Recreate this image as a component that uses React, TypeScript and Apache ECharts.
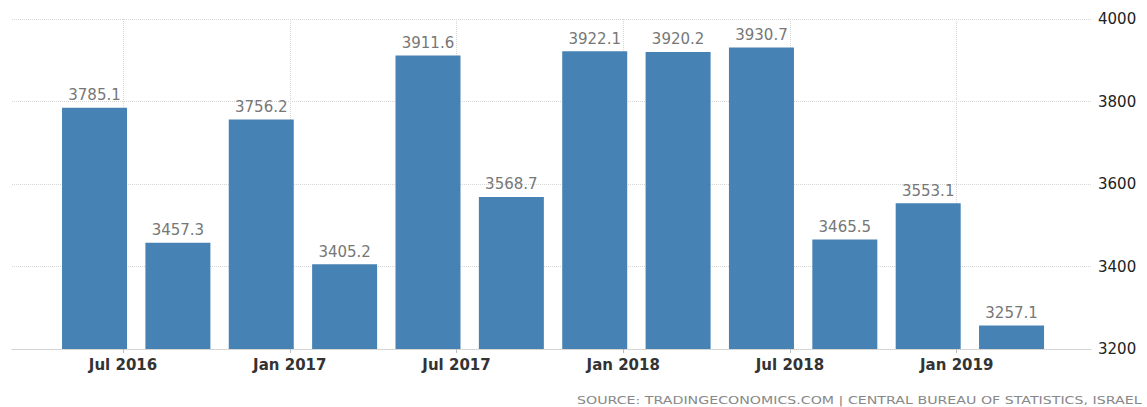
import React, { useEffect, useRef } from "react";
import * as echarts from "echarts";

const quarters = ["2016 Q2", "2016 Q3", "2016 Q4", "2017 Q1", "2017 Q2", "2017 Q3", "2017 Q4", "2018 Q1", "2018 Q2", "2018 Q3", "2018 Q4", "2019 Q1"];
const values = [3785.1, 3457.3, 3756.2, 3405.2, 3911.6, 3568.7, 3922.1, 3920.2, 3930.7, 3465.5, 3553.1, 3257.1];
const tickLabels = ["Jul 2016", "Jan 2017", "Jul 2017", "Jan 2018", "Jul 2018", "Jan 2019"];
// tick label positions in quarter units (bar index scale)
const tickPositions = [0.342, 2.342, 4.342, 6.342, 8.342, 10.342];
const sourceText = "SOURCE: TRADINGECONOMICS.COM | CENTRAL BUREAU OF STATISTICS, ISRAEL";

export default function App() {
  const ref = useRef<HTMLDivElement>(null);
  useEffect(() => {
    if (!ref.current) return;
    const chart = echarts.init(ref.current, null, { renderer: "svg" });
    const labelMap: Record<string, string> = {};
    tickPositions.forEach((p, i) => (labelMap[p.toFixed(3)] = tickLabels[i]));
    chart.setOption({
      animation: false,
      grid: { left: 12, right: 55, top: 19, bottom: 58, containLabel: false },
      xAxis: {
        type: "value",
        min: -0.99,
        max: 11.965,
        axisLine: { show: true, lineStyle: { color: "#ccc", type: "dotted", width: 1 } },
        axisTick: { show: true, length: 4, lineStyle: { color: "#bbb" }, customValues: tickPositions },
        splitLine: { show: true, lineStyle: { color: "#d6d6d6", type: "dotted", width: 1 } },
        axisLabel: {
          customValues: tickPositions,
          formatter: (v: number) => labelMap[v.toFixed(3)] ?? "",
          color: "#333",
          fontFamily: "DejaVu Sans",
          fontSize: 15,
          fontWeight: "bold",
          margin: 8,
        },
      },
      yAxis: {
        type: "value",
        position: "right",
        min: 3200,
        max: 4000,
        interval: 200,
        axisLine: { show: false },
        axisTick: { show: false },
        splitLine: { show: true, lineStyle: { color: "#d6d6d6", type: "dotted", width: 1 } },
        axisLabel: {
          color: "#222",
          fontFamily: "DejaVu Sans",
          fontSize: 15,
          margin: 6,
          formatter: (v: number) => String(v),
        },
      },
      series: [
        {
          type: "bar",
          barWidth: 65,
          itemStyle: { color: "#4682b4" },
          label: {
            show: true,
            position: "top",
            color: "#777",
            fontFamily: "DejaVu Sans",
            fontSize: 15,
            formatter: (p: any) => values[p.dataIndex].toFixed(1),
          },
          data: values.map((v, i) => ({ name: quarters[i], value: [i, v] })),
        },
      ],
      graphic: [
        {
          type: "text",
          x: 577,
          y: 400,
          scaleX: 1.29,
          style: {
            text: sourceText,
            fill: "#888",
            font: "11px 'DejaVu Sans'",
            textAlign: "left",
            textVerticalAlign: "middle",
          },
        },
      ],
    });
    return () => chart.dispose();
  }, []);
  return <div ref={ref} style={{ width: 1147, height: 407, position: "absolute", left: 0, top: 0 }} />;
}
